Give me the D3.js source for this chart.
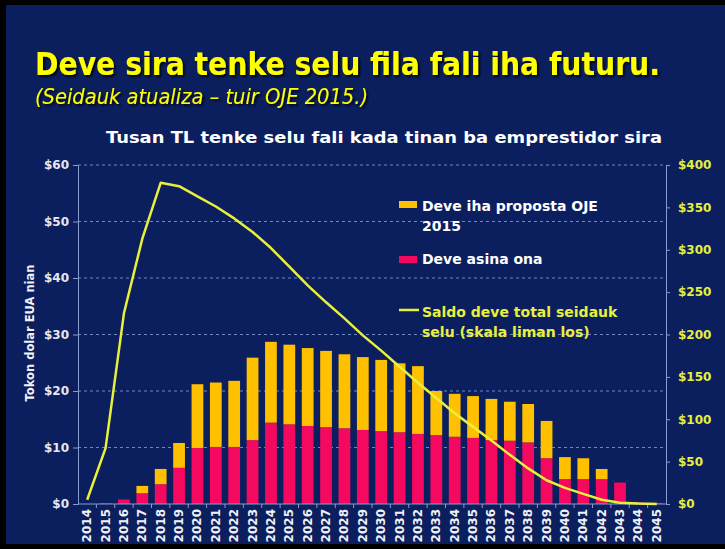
<!DOCTYPE html>
<html>
<head>
<meta charset="utf-8">
<script src="https://d3js.org/d3.v7.min.js"></script>
<style>
  html, body { margin: 0; padding: 0; background: #000; }
  svg { display: block; }
  text { font-family: "DejaVu Sans", Verdana, sans-serif; font-weight: bold; }
</style>
</head>
<body>
<svg width="725" height="549"></svg>
<script>
// years on the x axis
let years = d3.range(2014, 2046).map(String);

// signed debt service (pink), $ millions
let signedDebt = [0, 0.15, 0.8, 1.9, 3.5, 6.4, 9.9, 10.1, 10.1, 11.3, 14.4, 14.1, 13.8, 13.6, 13.4, 13.1,
                  12.9, 12.7, 12.4, 12.2, 11.9, 11.7, 11.3, 11.2, 10.9, 8.1, 4.4, 4.4, 4.4, 3.8, 0.3, 0.2];

// proposed OJE 2015 debt service (yellow, stacked), $ millions
let proposedDebt = [0, 0, 0, 1.3, 2.7, 4.4, 11.3, 11.4, 11.7, 14.6, 14.3, 14.1, 13.8, 13.5, 13.1, 12.9,
                    12.6, 12.2, 12.0, 7.8, 7.6, 7.4, 7.3, 6.9, 6.8, 6.6, 3.9, 3.7, 1.8, 0, 0, 0];

// outstanding debt balance (line, right axis), $ millions
let balance = [5, 66, 225, 313, 379, 375, 363, 351, 337, 321, 302, 280, 258, 238, 219, 199,
               181, 162, 143, 125, 107, 91, 75, 58, 42, 28, 19, 12, 5, 1.5, 0.5, 0];

let leftTicks = [0, 10, 20, 30, 40, 50, 60];
let rightTicks = [0, 50, 100, 150, 200, 250, 300, 350, 400];

let svg = d3.select("svg");

let navy = "#0b1f5f",
    gold = "#ffc000",
    pink = "#f5085f",
    lineYellow = "#e8f03a",
    gridColor = "#6f86c4",
    axisColor = "#8a9bd0";

// background panel inside the black frame
svg.append("rect")
    .attr("x", 6).attr("y", 5)
    .attr("width", 719).attr("height", 539)
    .attr("fill", navy);

let defs = svg.append("defs");
let shadow = defs.append("filter").attr("id", "shadow");
shadow.append("feDropShadow")
    .attr("dx", 2).attr("dy", 2).attr("stdDeviation", 1)
    .attr("flood-color", "#000").attr("flood-opacity", 0.8);

// titles
svg.append("text")
    .attr("x", 35).attr("y", 75)
    .attr("fill", "#ffff00")
    .attr("font-size", 32)
    .attr("textLength", 625)
    .attr("lengthAdjust", "spacingAndGlyphs")
    .attr("filter", "url(#shadow)")
    .style("font-family", "'DejaVu Sans Condensed', 'DejaVu Sans', sans-serif")
    .text("Deve sira tenke selu fila fali iha futuru.");

svg.append("text")
    .attr("x", 35).attr("y", 104)
    .attr("fill", "#ffff00")
    .attr("font-size", 22)
    .attr("font-style", "italic")
    .attr("textLength", 333)
    .attr("lengthAdjust", "spacingAndGlyphs")
    .attr("filter", "url(#shadow)")
    .style("font-weight", "normal")
    .text("(Seidauk atualiza \u2013 tuir OJE 2015.)");

svg.append("text")
    .attr("x", 106).attr("y", 143)
    .attr("fill", "#ffffff")
    .attr("font-size", 16.5)
    .attr("textLength", 556)
    .attr("lengthAdjust", "spacingAndGlyphs")
    .text("Tusan TL tenke selu fali kada tinan ba emprestidor sira");

// scales
let x = d3.scaleBand()
    .domain(years)
    .range([78, 666])
    .paddingInner(0.36)
    .paddingOuter(0.18);

let y = d3.scaleLinear().domain([0, 60]).range([504, 165]);
let yRight = d3.scaleLinear().domain([0, 400]).range([504, 165]);

// gridlines
svg.append("g")
    .selectAll("line")
    .data(leftTicks.slice(1)).enter().append("line")
        .attr("x1", 78).attr("x2", 666)
        .attr("y1", d => y(d)).attr("y2", d => y(d))
        .attr("stroke", gridColor)
        .attr("stroke-width", 1)
        .attr("stroke-dasharray", "3,3");

// stacked bars
let rows = years.map((yr, i) => ({ year: yr, signed: signedDebt[i], proposed: proposedDebt[i] }));
let stack = d3.stack().keys(["signed", "proposed"])(rows);
let barColors = { signed: pink, proposed: gold };

svg.append("g")
    .selectAll("g")
    .data(stack).enter().append("g")
        .attr("fill", d => barColors[d.key])
    .selectAll("rect")
    .data(d => d).enter().append("rect")
        .attr("x", d => x(d.data.year))
        .attr("width", x.bandwidth())
        .attr("y", d => y(d[1]))
        .attr("height", d => y(d[0]) - y(d[1]));

// axes
let leftAxis = svg.append("g")
    .attr("transform", "translate(78,0)")
    .call(d3.axisLeft(y).tickValues(leftTicks).tickFormat(d => "$" + d).tickSize(5).tickPadding(4));
leftAxis.select(".domain").attr("stroke", axisColor);
leftAxis.selectAll(".tick line").attr("stroke", axisColor);
leftAxis.selectAll("text")
    .attr("fill", "#e6e8f0")
    .attr("font-size", 12)
    .style("font-family", "'DejaVu Sans', sans-serif")
    .style("font-weight", "bold");

let rightAxis = svg.append("g")
    .attr("transform", "translate(666,0)")
    .call(d3.axisRight(yRight).tickValues(rightTicks).tickFormat(d => "$" + d).tickSize(4).tickPadding(8));
rightAxis.select(".domain").attr("stroke", axisColor);
rightAxis.selectAll(".tick line").attr("stroke", axisColor);
rightAxis.selectAll("text")
    .attr("fill", "#e4f03c")
    .attr("font-size", 12)
    .style("font-family", "'DejaVu Sans', sans-serif")
    .style("font-weight", "bold");

// x axis baseline
svg.append("line")
    .attr("x1", 78).attr("x2", 666)
    .attr("y1", 504).attr("y2", 504)
    .attr("stroke", axisColor);

// small separators between years
svg.append("g")
    .selectAll("line")
    .data(years.slice(1)).enter().append("line")
        .attr("x1", d => x(d) - x.step() * x.paddingInner() / 2)
        .attr("x2", d => x(d) - x.step() * x.paddingInner() / 2)
        .attr("y1", 504).attr("y2", 508)
        .attr("stroke", axisColor);

// rotated year labels, one group per label
let yearLabels = svg.append("g")
    .selectAll("g")
    .data(years).enter().append("g")
        .attr("transform", d => "translate(" + (x(d) + x.bandwidth() / 2 + 4) + ",509)");
yearLabels.append("text")
    .attr("transform", "rotate(-90)")
    .attr("text-anchor", "end")
    .attr("fill", "#f0f0f5")
    .attr("font-size", 12)
    .text(d => d);

// axis title
svg.append("text")
    .attr("transform", "translate(34,333) rotate(-90)")
    .attr("text-anchor", "middle")
    .attr("fill", "#f0f0f5")
    .attr("font-size", 11.5)
    .text("Tokon dolar EUA nian");

// balance line
let line = d3.line()
    .x((d, i) => x(years[i]) + x.bandwidth() / 2)
    .y(d => yRight(d));

svg.append("path")
    .datum(balance)
    .attr("d", line)
    .attr("fill", "none")
    .attr("stroke", lineYellow)
    .attr("stroke-width", 2.5)
    .attr("stroke-linejoin", "round");

// legend
let legend = svg.append("g");
legend.append("rect")
    .attr("x", 399).attr("y", 201).attr("width", 18).attr("height", 7)
    .attr("fill", gold);
legend.append("rect")
    .attr("x", 399).attr("y", 256).attr("width", 18).attr("height", 7)
    .attr("fill", pink);
legend.append("line")
    .attr("x1", 399).attr("x2", 419).attr("y1", 310).attr("y2", 310)
    .attr("stroke", lineYellow).attr("stroke-width", 2.5);

let legendText = [
    { t: "Deve iha proposta OJE", y: 211, c: "#ffffff" },
    { t: "2015", y: 231, c: "#ffffff" },
    { t: "Deve asina ona", y: 264, c: "#ffffff" },
    { t: "Saldo deve total seidauk", y: 317, c: "#e8f03c" },
    { t: "selu (skala liman los)", y: 337, c: "#e8f03c" }
];
legend.selectAll("text.leg")
    .data(legendText).enter().append("text")
        .attr("class", "leg")
        .attr("x", 422)
        .attr("y", d => d.y)
        .attr("fill", d => d.c)
        .attr("font-size", 14)
        .text(d => d.t);
</script>
</body>
</html>
